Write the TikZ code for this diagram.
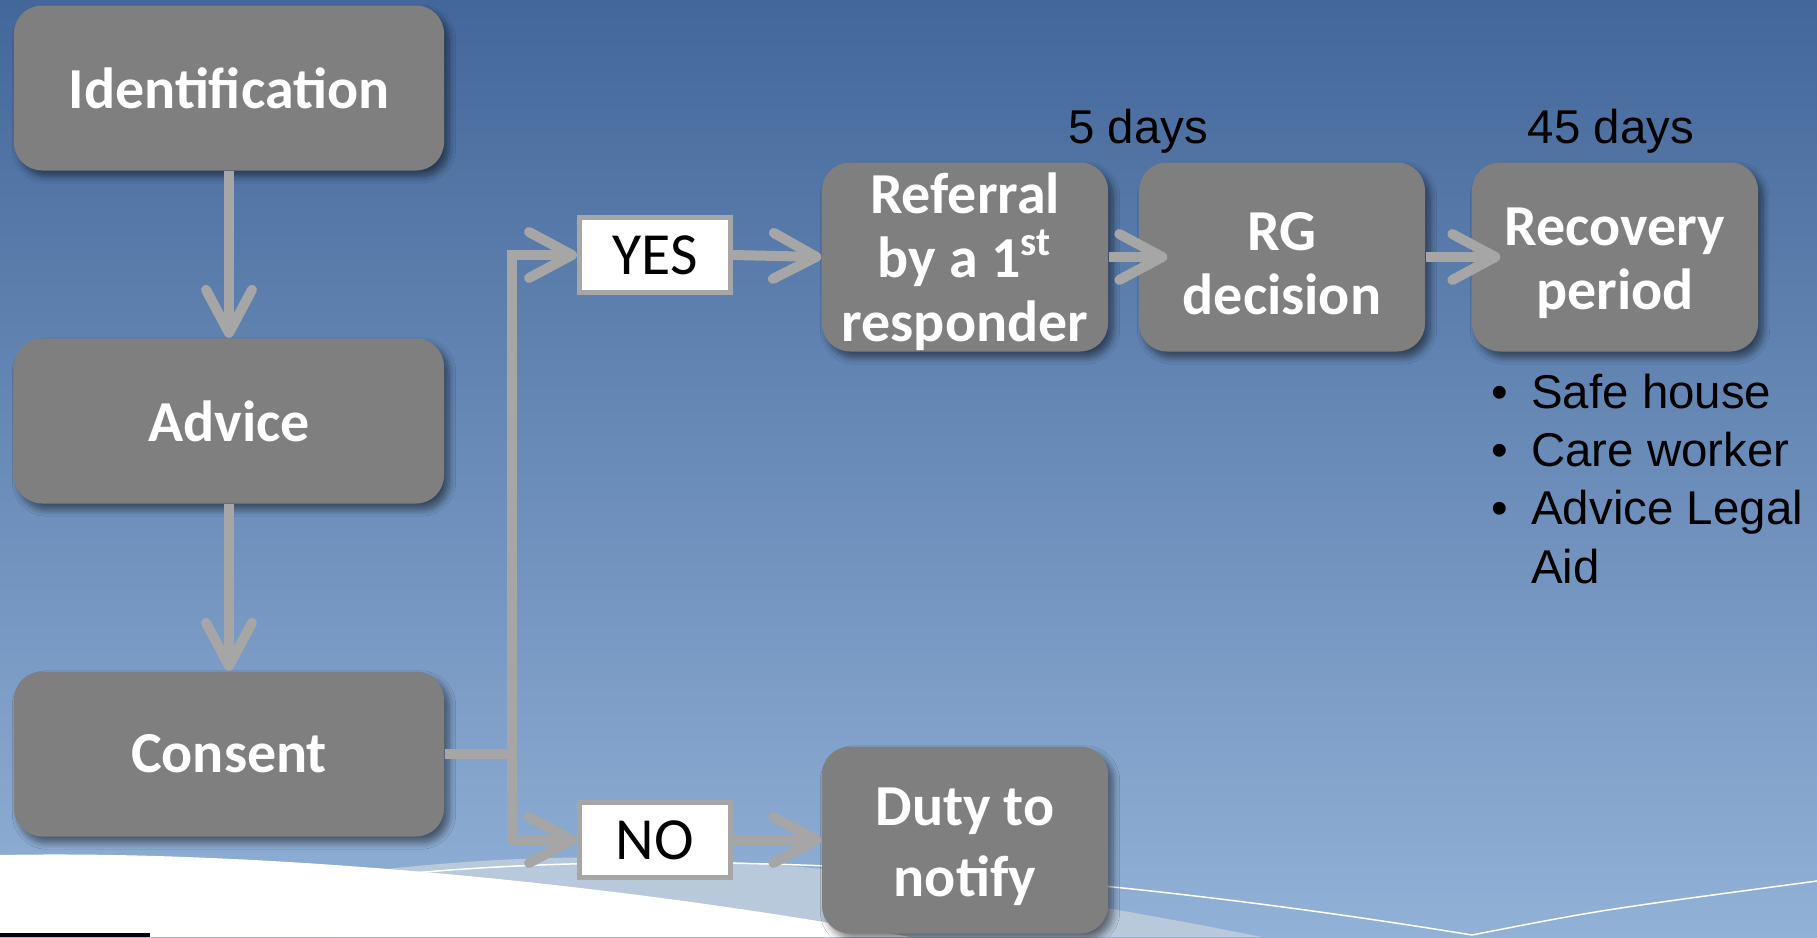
\documentclass[tikz,border=0pt]{standalone}
\usepackage{fontspec}
\setmainfont{Carlito}
\newfontfamily\arialfont{Liberation Sans}
\usepackage{tikz}
\usetikzlibrary{arrows.meta, shadows.blur}

\definecolor{boxgray}{HTML}{7F7F7F}
\definecolor{arrowgray}{HTML}{A6A6A6}
\definecolor{bgtop}{HTML}{43679A}
\definecolor{bgbottom}{HTML}{92B1D7}
\definecolor{swoosh}{HTML}{B8C9DC}

\newcommand\tstrut{\rule{0pt}{5.1mm}}

\begin{document}
\begin{tikzpicture}[x=0.1mm, y=-0.1mm,
    box/.style={rounded corners=2.8mm, fill=boxgray, text=white, align=center, inner sep=0pt,
        font=\fontsize{16.5}{18.2}\selectfont\bfseries,
        blur shadow={shadow xshift=0.5mm, shadow yshift=-0.6mm, shadow opacity=50, shadow blur steps=8}},
    bigbox/.style={box, minimum width=43mm, minimum height=16.5mm},
    smallbox/.style={box, minimum width=28.6mm, minimum height=18.9mm},
    ansbox/.style={draw=arrowgray, line width=0.5mm, fill=white, inner sep=0pt,
        minimum width=15.1mm, minimum height=7.5mm, font=\fontsize{17}{20}\selectfont},
    arr/.style={draw=arrowgray, line width=1mm, -{Straight Barb[length=4.3mm, width=4.6mm, round]}},
    plain/.style={text=black, inner sep=0pt, font=\arialfont\fontsize{13.5}{16.6}\selectfont}]

    % background and swoosh
    \useasboundingbox (0,0) rectangle (1817,937);
    \shade[top color=bgtop, bottom color=bgbottom] (0,0) rectangle (1817,937);
    \fill[swoosh] (330,876) .. controls (560,845) and (800,845) .. (1262,937) -- (330,937) -- cycle;
    \draw[white, line width=0.15mm] (413,873) .. controls (650,852) and (1000,858) .. (1472,935)
        .. controls (1600,910) .. (1817,881);
    \fill[white] (0,855) .. controls (250,850) and (600,880) .. (910,937) -- (0,937) -- cycle;
    \fill[black] (0,933) rectangle (150,937);

    % steps
    \node[bigbox] (ident) at (229,88) {Identification};
    \node[bigbox] (advice) at (229,421) {Advice};
    \node[bigbox] (consent) at (229,754) {Consent};
    \node[ansbox] (yes) at (655,255) {YES};
    \node[ansbox] (no) at (655,840) {NO};
    \node[smallbox] (referral) at (965,257) {\tstrut Referral\\by a 1\textsuperscript{st}\\responder};
    \node[smallbox] (rg) at (1282,257) {\tstrut RG\\decision};
    \node[smallbox] (recovery) at (1615,257) {\tstrut Recovery\\period};
    \node[smallbox, minimum height=18.7mm, font=\fontsize{16.5}{20.3}\selectfont\bfseries] (duty) at (965,840) {\tstrut Duty to\\notify};

    \node[plain, anchor=base] (fivedays) at (1138,143) {5 days};
    \node[plain, anchor=base] (fortyfivedays) at (1611,143) {45 days};
    \node[plain, anchor=base west] (support) at (1491,408) {%
        \begin{tabular}[t]{@{}l@{\hspace{2.3mm}}l@{}}
            \textbullet & Safe house\\
            \textbullet & Care worker\\
            \textbullet & Advice Legal\\
                        & Aid
        \end{tabular}};

    % connectors
    \coordinate (split) at (512,754);
    \draw[arr] (ident) -- (advice);
    \draw[arr] (advice) -- (consent);
    \draw[arrowgray, line width=1mm] (consent.east) -- (split);
    \draw[arr] (split) |- (yes.west);
    \draw[arr] (split) |- (no.west);
    \draw[arr] (yes.east) -- (referral.west);
    \draw[arr] (no.east) -- (duty.west);
    \draw[arr] (referral.east) -- ([xshift=2.9mm]rg.west);
    \draw[arr] (rg.east) -- ([xshift=2.9mm]recovery.west);
\end{tikzpicture}
\end{document}
